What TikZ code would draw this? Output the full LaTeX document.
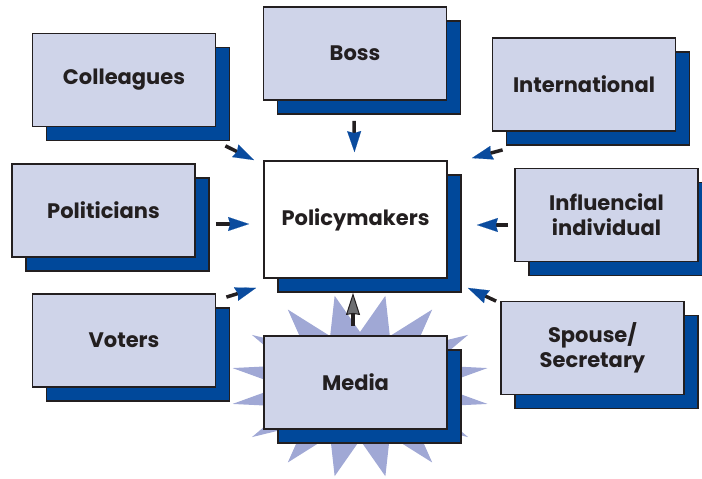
\documentclass[tikz,border=0pt]{standalone}
\usepackage{fontspec}
\setmainfont{Poppins}
\usetikzlibrary{arrows.meta,shadows}
\definecolor{ink}{HTML}{231F20}
\definecolor{boxfill}{HTML}{CFD4E9}
\definecolor{shadowblue}{HTML}{00489A}
\definecolor{arrowblue}{HTML}{0A4B9E}
\definecolor{burstblue}{HTML}{A0A8D5}
\definecolor{headgray}{HTML}{6D6E71}
\tikzset{
  actor/.style={draw=ink,line width=1.8pt,fill=boxfill,minimum width=183pt,minimum height=93pt,
    align=center,text=ink,font=\fontsize{21}{25}\selectfont\bfseries,
    drop shadow={shadow xshift=14pt,shadow yshift=-14pt,fill=shadowblue,draw=ink,line width=1.2pt,opacity=1}},
  infl/.style={draw=ink,line width=3.5pt,-{Stealth[length=21pt,width=14pt,inset=2pt,color=arrowblue,line width=0.1pt]}},
}
\begin{document}
\begin{tikzpicture}[x=1pt,y=-1pt]
	\useasboundingbox (0,0) rectangle (702,479);
	% media burst
	\begin{scope}[shift={(360,386)}]
		\fill[burstblue] (0:78 and 54) \foreach \t in {11.25,33.75,...,348.75}{ -- (\t:130 and 92) -- (\t+11.25:78 and 54)} -- cycle;
	\end{scope}
	\node[actor] (boss) at (355,53.5) {Boss};
	\node[actor] (colleagues) at (124,80) {Colleagues};
	\node[actor] (international) at (584,84.5) {International};
	\node[actor] (politicians) at (103.5,210.5) {Politicians};
	\node[actor,fill=white,minimum height=117pt] (policy) at (355.5,219.5) {Policymakers};
	\node[actor] (influencial) at (606.5,215) {Influencial\\individual};
	\node[actor] (voters) at (124,340.5) {Voters};
	\node[actor] (media) at (355.5,382.5) {Media};
	\node[actor] (spouse) at (592.5,348) {Spouse/\\Secretary};
	% influences
	\draw[infl] ([shift={(9,18.5)}]colleagues.south east) -- ([shift={(-9,0)}]policy.north west);
	\draw[infl] ([shift={(-1,20)}]boss.south) -- ([shift={(-1,-8)}]policy.north);
	\draw[infl] ([shift={(11,18)}]international.south west) -- ([shift={(24,-2)}]policy.north east);
	\draw[infl] ([shift={(20,13.5)}]politicians.east) -- ([shift={(-14,4.5)}]policy.west);
	\draw[infl] ([shift={(-6,10)}]influencial.west) -- ([shift={(29,5.5)}]policy.east);
	\draw[infl] ([shift={(10,4)}]voters.north east) -- ([shift={(-7,9)}]policy.south west);
	\draw[infl] ([shift={(-4,0.5)}]spouse.north west) -- ([shift={(20,9)}]policy.south east);
	\draw[infl,-{Stealth[length=22pt,width=14pt,inset=1pt,fill=headgray,line width=1pt]}] ([shift={(-2.5,-9)}]media.north) -- ([shift={(-2.5,14)}]policy.south);
\end{tikzpicture}
\end{document}
